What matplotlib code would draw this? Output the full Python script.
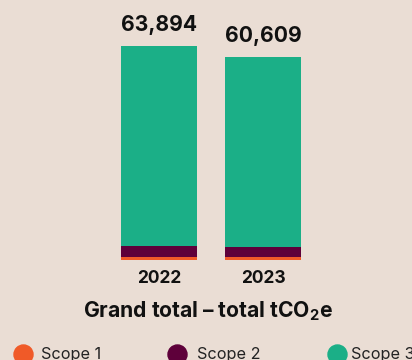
import matplotlib
matplotlib.use("Agg")
import matplotlib.pyplot as plt
from matplotlib.lines import Line2D

years = ["2022", "2023"]
totals = [63894, 60609]
scope1 = [900, 900]
scope2 = [3300, 3000]
scope3 = [t - a - b for t, a, b in zip(totals, scope1, scope2)]
series_names = ["Scope 1", "Scope 2", "Scope 3"]

bg = "#EADDD4"
colors = ["#F05A28", "#5E003A", "#1BAF87"]

plt.rcParams['font.family'] = ['Inter', 'DejaVu Sans']
plt.rcParams['mathtext.fontset'] = 'custom'
plt.rcParams['mathtext.rm'] = 'Inter'
plt.rcParams['mathtext.bf'] = 'Inter:bold'

fig = plt.figure(figsize=(4.12, 3.6), dpi=100, facecolor=bg)
ax = fig.add_axes([0, 100/360, 1, 260/360])
ax.set_facecolor(bg)

x = list(range(len(years)))
w = 76/104
bottom = [0, 0]
for vals, c in zip([scope1, scope2, scope3], colors):
    ax.bar(x, vals, width=w, bottom=bottom, color=c, linewidth=0)
    bottom = [b + v for b, v in zip(bottom, vals)]

for i, t in enumerate(totals):
    ax.annotate(f"{t:,}", (i, t), xytext=(0, 10.8), textcoords="offset points",
                ha="center", va="baseline", fontsize=15.2, fontweight="bold", color="#111111")

ax.set_xlim(-159/104, (412-159)/104)
ax.set_ylim(0, 260 * 63894 / 214)
for s in ax.spines.values():
    s.set_visible(False)
ax.set_yticks([])
ax.set_xticks(x)
ax.set_xticklabels(years, fontsize=12.5, fontweight="bold", color="#111111")
ax.tick_params(axis="x", length=0, pad=7.5)

fig.text(208/412, 1 - 317/360, r"Grand total – total tCO$_\mathbf{2}$e", ha="center", va="baseline",
         fontsize=15.2, fontweight="bold", color="#111111")

# legend drawn manually in figure coordinates
leg_x = [22.5/412, 177/412, 336.7/412]
text_x = [41/412, 197/412, 351/412]
ly = 1 - 353.5/360
for mx, tx, c, name in zip(leg_x, text_x, colors, series_names):
    fig.add_artist(Line2D([mx], [ly], marker="o", linestyle="", markersize=13.7,
                          color=c, transform=fig.transFigure))
    fig.text(tx, 1 - 359.5/360, name, ha="left", va="baseline", fontsize=11.7, color="#222222")

fig.savefig("out.png", dpi=100, facecolor=bg)
